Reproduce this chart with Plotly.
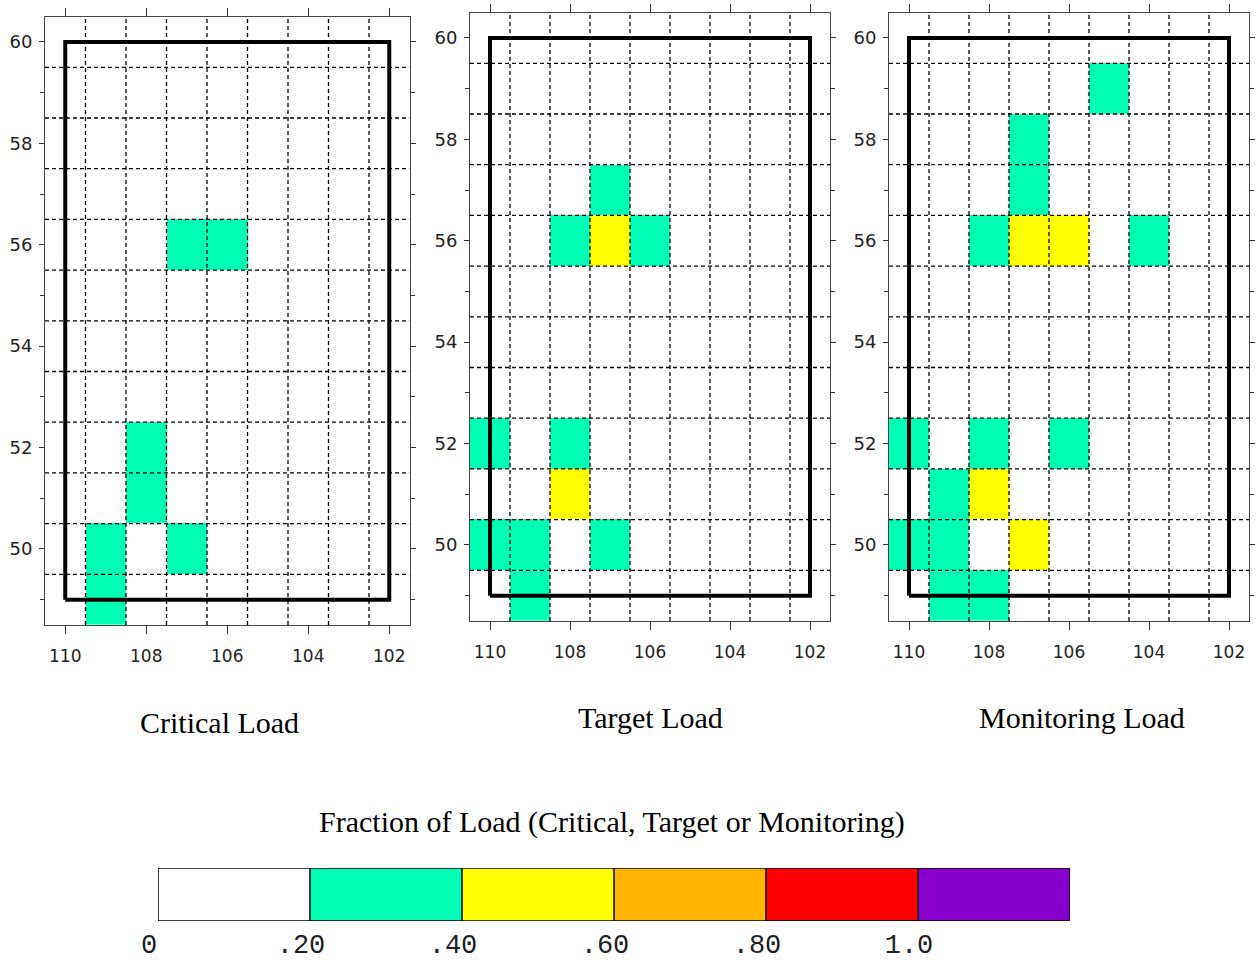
import plotly.graph_objects as go

# ---------------- data ----------------
lon_centers = [110, 109, 108, 107, 106, 105, 104, 103, 102]
lat_centers = [49, 50, 51, 52, 53, 54, 55, 56, 57, 58, 59, 60]

# non-zero grid cells (lon, lat, fraction of load)
critical_lon = [107, 106, 108, 108, 109, 107, 109]
critical_lat = [56, 56, 52, 51, 50, 50, 49]
critical_frac = [0.3, 0.3, 0.3, 0.3, 0.3, 0.3, 0.3]

target_lon = [107, 108, 107, 106, 110, 108, 108, 110, 109, 107, 109]
target_lat = [57, 56, 56, 56, 52, 52, 51, 50, 50, 50, 49]
target_frac = [0.3, 0.3, 0.5, 0.3, 0.3, 0.3, 0.5, 0.3, 0.3, 0.3, 0.3]

monitor_lon = [105, 107, 107, 108, 107, 106, 104, 110, 108, 106, 109, 108, 110, 109, 107, 109, 108]
monitor_lat = [59, 58, 57, 56, 56, 56, 56, 52, 52, 52, 51, 51, 50, 50, 50, 49, 49]
monitor_frac = [0.3, 0.3, 0.3, 0.3, 0.5, 0.5, 0.3, 0.3, 0.3, 0.3, 0.3, 0.5, 0.3, 0.3, 0.5, 0.3, 0.3]

panel_titles = ["Critical Load", "Target Load", "Monitoring Load"]

region_lon = [110, 102]
region_lat = [49, 60]

x_ticks = [110, 108, 106, 104, 102]
y_ticks = [50, 52, 54, 56, 58, 60]
y_minor = [49, 51, 53, 55, 57, 59]

bin_edges = [0.0, 0.2, 0.4, 0.6, 0.8, 1.0, 1.2]
bin_colors = ["#FFFFFF", "#00FFB4", "#FFFF00", "#FFB400", "#FF0000", "#8800D0"]
bin_labels = ["0", ".20", ".40", ".60", ".80", "1.0"]
colorbar_title = "Fraction of Load (Critical, Target or Monitoring)"

# ---------------- helpers ----------------
def make_grid(lons, lats, fracs):
    z = [[0.0 for _ in lon_centers] for _ in lat_centers]
    for lo, la, f in zip(lons, lats, fracs):
        z[lat_centers.index(la)][lon_centers.index(lo)] = f
    return z

zmin, zmax = bin_edges[0], bin_edges[-1]
colorscale = []
for i, c in enumerate(bin_colors):
    a = (bin_edges[i] - zmin) / (zmax - zmin)
    b = (bin_edges[i + 1] - zmin) / (zmax - zmin)
    colorscale.append([a, c])
    colorscale.append([b, c])

x_lo = max(lon_centers) + 0.5
x_hi = min(lon_centers) - 0.5
y_lo = min(lat_centers) - 0.5
y_hi = max(lat_centers) + 0.5

panels = [
    (critical_lon, critical_lat, critical_frac),
    (target_lon, target_lat, target_frac),
    (monitor_lon, monitor_lat, monitor_frac),
]

# layout geometry (paper fractions)
W, H = 1258, 962
panel_px = [
    (45, 409.5, 16.6, 625),
    (470, 830, 12.6, 621),
    (889, 1249, 12.6, 621),
]
title_px = [(219, 722), (650, 717), (1082, 717)]

fig = go.Figure()
layout = dict(
    width=W, height=H,
    margin=dict(l=0, r=0, t=0, b=0, autoexpand=False),
    paper_bgcolor="white", plot_bgcolor="white",
    showlegend=False,
)

tickfont = dict(family="DejaVu Sans", size=17, color="#222222")

for i, (lo, la, fr) in enumerate(panels):
    n = "" if i == 0 else str(i + 1)
    xa, ya = "x" + n, "y" + n
    z = make_grid(lo, la, fr)
    fig.add_trace(go.Heatmap(
        x=lon_centers, y=lat_centers, z=z,
        zmin=zmin, zmax=zmax, colorscale=colorscale,
        showscale=False, xaxis=xa, yaxis=ya, hoverinfo="skip",
    ))
    # dashed cell grid, drawn over the cells
    gx, gy = [], []
    for k in range(len(lon_centers) - 1):
        e = (lon_centers[k] + lon_centers[k + 1]) / 2
        gx += [e, e, None]
        gy += [y_lo, y_hi, None]
    for k in range(len(lat_centers) - 1):
        e = (lat_centers[k] + lat_centers[k + 1]) / 2
        gx += [x_lo, x_hi, None]
        gy += [e, e, None]
    fig.add_trace(go.Scatter(
        x=gx, y=gy, mode="lines", xaxis=xa, yaxis=ya,
        line=dict(color="black", width=1.3, dash="4px,3px"),
        hoverinfo="skip",
    ))
    # study region box
    fig.add_trace(go.Scatter(
        x=[region_lon[0], region_lon[1], region_lon[1], region_lon[0], region_lon[0]],
        y=[region_lat[0], region_lat[0], region_lat[1], region_lat[1], region_lat[0]],
        mode="lines", xaxis=xa, yaxis=ya,
        line=dict(color="black", width=4), hoverinfo="skip",
    ))
    l, r, t, b = panel_px[i]
    layout["xaxis" + n] = dict(
        domain=[l / W, r / W], anchor=ya, range=[x_lo, x_hi],
        tickmode="array", tickvals=x_ticks, ticks="outside", ticklen=8,
        tickcolor="#333333", showline=True, linecolor="#444444", linewidth=1,
        mirror="allticks", showgrid=False, zeroline=False, automargin=False,
        tickfont=tickfont, ticklabelstandoff=8, fixedrange=True,
    )
    layout["yaxis" + n] = dict(
        domain=[1 - b / H, 1 - t / H], anchor=xa, range=[y_lo, y_hi],
        tickmode="array", tickvals=y_ticks, ticks="outside", ticklen=5,
        tickcolor="#333333", showline=True, linecolor="#444444", linewidth=1,
        mirror="allticks", showgrid=False, zeroline=False, automargin=False,
        minor=dict(tickvals=y_minor, ticks="outside", ticklen=4, tickcolor="#333333"),
        tickfont=dict(family="DejaVu Sans", size=18, color="#222222"),
        ticklabelstandoff=3, fixedrange=True,
    )

# colour key as a stacked horizontal bar
widths = [bin_edges[k + 1] - bin_edges[k] for k in range(len(bin_colors))]
fig.add_trace(go.Bar(
    x=widths, base=bin_edges[:-1], y=[0] * len(widths), orientation="h",
    width=1, marker=dict(color=bin_colors, line=dict(width=0)),
    xaxis="x4", yaxis="y4", hoverinfo="skip",
))
# outline and dividers of the colour key
kx = [bin_edges[0], bin_edges[-1], bin_edges[-1], bin_edges[0], bin_edges[0], None]
ky = [-0.5, -0.5, 0.5, 0.5, -0.5, None]
for e in bin_edges[1:-1]:
    kx += [e, e, None]
    ky += [-0.5, 0.5, None]
fig.add_trace(go.Scatter(
    x=kx, y=ky, mode="lines", xaxis="x4", yaxis="y4", cliponaxis=False,
    line=dict(color="black", width=1.5), hoverinfo="skip",
))
layout["xaxis4"] = dict(
    domain=[158 / W, 1070 / W], anchor="y4", range=[bin_edges[0], bin_edges[-1]],
    tickmode="array", tickvals=bin_edges[:-1], ticktext=bin_labels,
    ticks="", showline=False, showgrid=False, zeroline=False, automargin=False,
    tickfont=dict(family="Liberation Mono", size=27, color="#222222"),
    ticklabelstandoff=4, ticklabelshift=-9, fixedrange=True,
)
layout["yaxis4"] = dict(
    domain=[1 - 921 / H, 1 - 868 / H], anchor="x4", range=[-0.5, 0.5],
    showticklabels=False, ticks="", showline=False, showgrid=False,
    zeroline=False, automargin=False, fixedrange=True,
)

annotations = []
for (cx, cy), txt in zip(title_px, panel_titles):
    annotations.append(dict(
        text=txt, x=cx / W, y=1 - cy / H, xref="paper", yref="paper",
        xanchor="center", yanchor="middle", showarrow=False,
        font=dict(family="Liberation Serif", size=30, color="black"),
    ))
annotations.append(dict(
    text=colorbar_title, x=612 / W, y=1 - 822 / H, xref="paper", yref="paper",
    xanchor="center", yanchor="middle", showarrow=False,
    font=dict(family="Liberation Serif", size=30, color="black"),
))
layout["annotations"] = annotations
layout["bargap"] = 0

fig.update_layout(**layout)
fig.write_html("out.html")
